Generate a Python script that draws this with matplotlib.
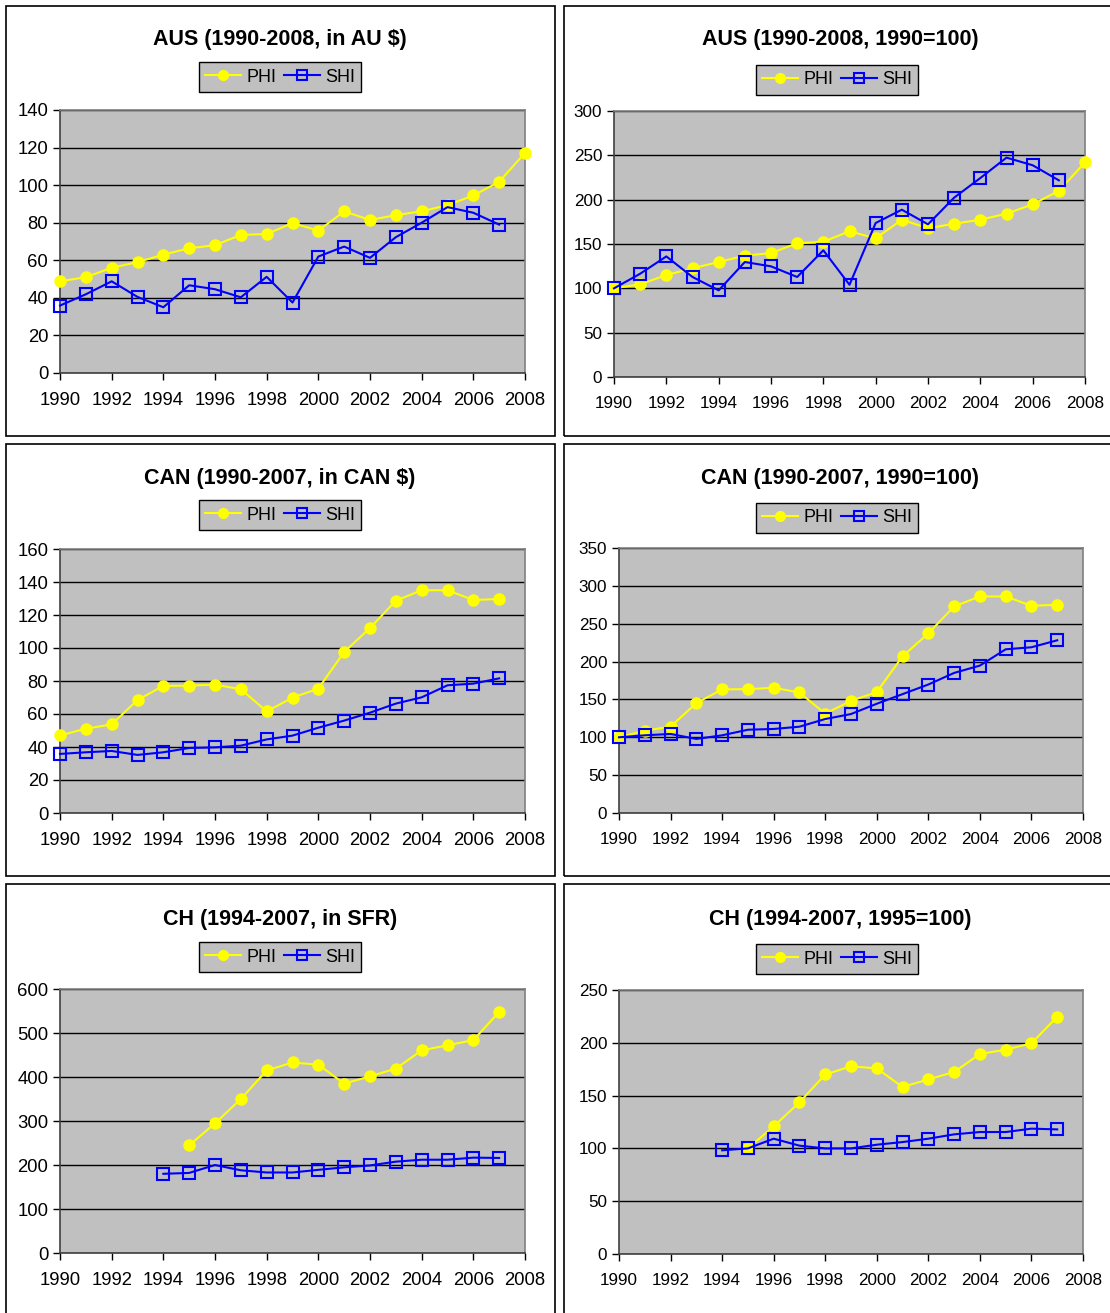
import matplotlib
matplotlib.use("Agg")
import matplotlib.pyplot as plt
from matplotlib.patches import Rectangle
import numpy as np

plt.rcParams['font.family'] = ['Liberation Sans', 'DejaVu Sans']

years_90_08 = list(range(1990, 2009))
years_90_07 = list(range(1990, 2008))
years_94_07 = list(range(1994, 2008))
years_95_07 = list(range(1995, 2008))

aus_phi = [48.8, 51, 56, 59, 63, 66.4, 68, 73.5, 74, 79.8, 75.8, 86, 81.5, 84, 86.1, 89.3, 94.5, 101.8, 117.2]
aus_shi = [35.9, 41.9, 48.8, 40.5, 35, 46.7, 44.6, 40.3, 51.2, 37.5, 62, 67.3, 61.3, 72.3, 80, 88.3, 85.3, 79]
aus_phi_idx = [100, 104.5, 115, 122.6, 129.7, 136.8, 139.8, 150.8, 152.6, 164.3, 156.4, 177.4, 167.7, 172.9, 177.4, 184.2, 194.7, 210, 242]
aus_shi_idx = [100, 116.5, 136, 112.8, 97.7, 129.7, 124.8, 112.8, 142.9, 104, 173.7, 188.7, 172.2, 202.3, 224.4, 247.4, 238.8, 221.8]

can_phi = [47, 51.1, 53.7, 68.5, 77, 77.2, 77.8, 75, 61.6, 69.9, 75.4, 97.6, 112.1, 128.7, 135, 135, 129.1, 129.7]
can_shi = [35.8, 36.8, 37.6, 35.2, 36.8, 39.4, 39.8, 40.8, 44.6, 46.9, 51.7, 56, 60.8, 66.3, 70.1, 77.4, 78.4, 81.6]
can_phi_idx = [100, 108.8, 114, 145.2, 163.2, 163.6, 165.4, 159.2, 131.1, 148.2, 159.6, 207, 237.3, 272.8, 286, 286, 273.7, 275]
can_shi_idx = [100, 102.6, 104.4, 97.8, 102.6, 110, 111, 114, 124.1, 130.7, 144.3, 157, 169.7, 185, 194.7, 216.2, 218.9, 228.1]

ch_phi = [244.7, 294.7, 350, 415, 433, 428, 385, 401.5, 419, 460.6, 472, 484, 547.7]
ch_shi = [180, 182, 200, 188, 183, 183, 189, 194.7, 199, 207.6, 212, 212, 216.7, 216]
ch_phi_idx = [100, 120.9, 143.6, 170, 177.7, 175.8, 158.1, 165.4, 172.3, 189.4, 193.5, 199.5, 224.7]
ch_shi_idx = [98.2, 100, 109.2, 102.6, 100, 100, 103.5, 106, 109.2, 113.3, 115.5, 115.5, 118.7, 118]

titles = ["AUS (1990-2008, in AU $)", "AUS (1990-2008, 1990=100)",
          "CAN (1990-2007, in CAN $)", "CAN (1990-2007, 1990=100)",
          "CH (1994-2007, in SFR)", "CH (1994-2007, 1995=100)"]
ymax = [140, 300, 160, 350, 600, 250]
ystep = [20, 50, 20, 50, 100, 50]
xticks = list(range(1990, 2009, 2))

W, H = 1110, 1313
fig = plt.figure(figsize=(W / 100, H / 100), dpi=100)

def fx(x):
    return x / W

def fy(y):
    return 1 - y / H

# panel boxes (pixel coords: x0, y0, x1, y1)
boxes = [(6, 6, 555, 436), (564, 6, 1125, 436),
         (6, 444, 555, 876), (564, 444, 1125, 876),
         (6, 884, 555, 1330), (564, 884, 1125, 1330)]
for (x0, y0, x1, y1) in boxes:
    fig.add_artist(Rectangle((fx(x0), fy(y1)), fx(x1 - x0), (y1 - y0) / H,
                             transform=fig.transFigure, fill=False,
                             edgecolor='black', lw=1.2, zorder=0))

# plot areas (pixel coords: left, top, right, bottom)
areas = [(60, 110, 525, 373), (614, 111, 1085, 377),
         (60, 549, 525, 813), (619, 548, 1083, 813),
         (60, 989, 525, 1253), (619, 990, 1083, 1254)]
title_pos = [(280, 40), (840, 40), (280, 479), (840, 479), (280, 919), (840, 919)]
legend_pos = [(280, 77), (837, 80), (280, 515), (837, 518), (280, 957), (837, 959)]

series = [
    (years_90_08, aus_phi, years_90_07, aus_shi),
    (years_90_08, aus_phi_idx, years_90_07, aus_shi_idx),
    (years_90_07, can_phi, years_90_07, can_shi),
    (years_90_07, can_phi_idx, years_90_07, can_shi_idx),
    (years_95_07, ch_phi, years_94_07, ch_shi),
    (years_95_07, ch_phi_idx, years_94_07, ch_shi_idx),
]

for i in range(6):
    l, t, r, b = areas[i]
    ax = fig.add_axes([fx(l), fy(b), (r - l) / W, (b - t) / H])
    ax.set_facecolor('#C0C0C0')
    px, py, sx, sy = series[i]
    ax.plot(px, py, color='#FFFF00', lw=1.5, marker='o', markersize=8,
            markerfacecolor='#FFFF00', markeredgecolor='#FFFF00', label='PHI',
            zorder=3, clip_on=False)
    ax.plot(sx, sy, color='#0000FF', lw=1.5, marker='s', markersize=8,
            markerfacecolor='none', markeredgecolor='#0000FF', markeredgewidth=1.5,
            label='SHI', zorder=4, clip_on=False)
    ax.set_xlim(1990, 2008)
    ax.set_ylim(0, ymax[i])
    ax.set_yticks(np.arange(0, ymax[i] + 1, ystep[i]))
    ax.set_xticks(xticks)
    ax.yaxis.grid(True, color='black', lw=1)
    ax.set_axisbelow(True)
    fs = 13.3 if i % 2 == 0 else 12.3
    ax.tick_params(axis='both', direction='out', length=5, width=1, colors='black',
                   labelsize=fs)
    ax.tick_params(axis='x', pad=9)
    for s in ['top', 'right']:
        ax.spines[s].set_color('#808080')
        ax.spines[s].set_linewidth(1.2)
    for s in ['left', 'bottom']:
        ax.spines[s].set_color('#404040')
        ax.spines[s].set_linewidth(1.2)
    tx, ty = title_pos[i]
    fig.text(fx(tx), fy(ty), titles[i], ha='center', va='center',
             fontsize=15.5, fontweight='bold')
    lx, ly = legend_pos[i]
    leg = fig.legend(*ax.get_legend_handles_labels(), loc='center',
                     bbox_to_anchor=(fx(lx), fy(ly)), ncol=2, frameon=True,
                     fancybox=False, edgecolor='black', facecolor='#C0C0C0',
                     framealpha=1, fontsize=13, handlelength=2.0,
                     handletextpad=0.3, columnspacing=0.4, borderpad=0.35,
                     borderaxespad=0)
    leg.get_frame().set_linewidth(1.0)
    for h in leg.legend_handles:
        h.set_markersize(7)

fig.savefig('out.png', dpi=100)
